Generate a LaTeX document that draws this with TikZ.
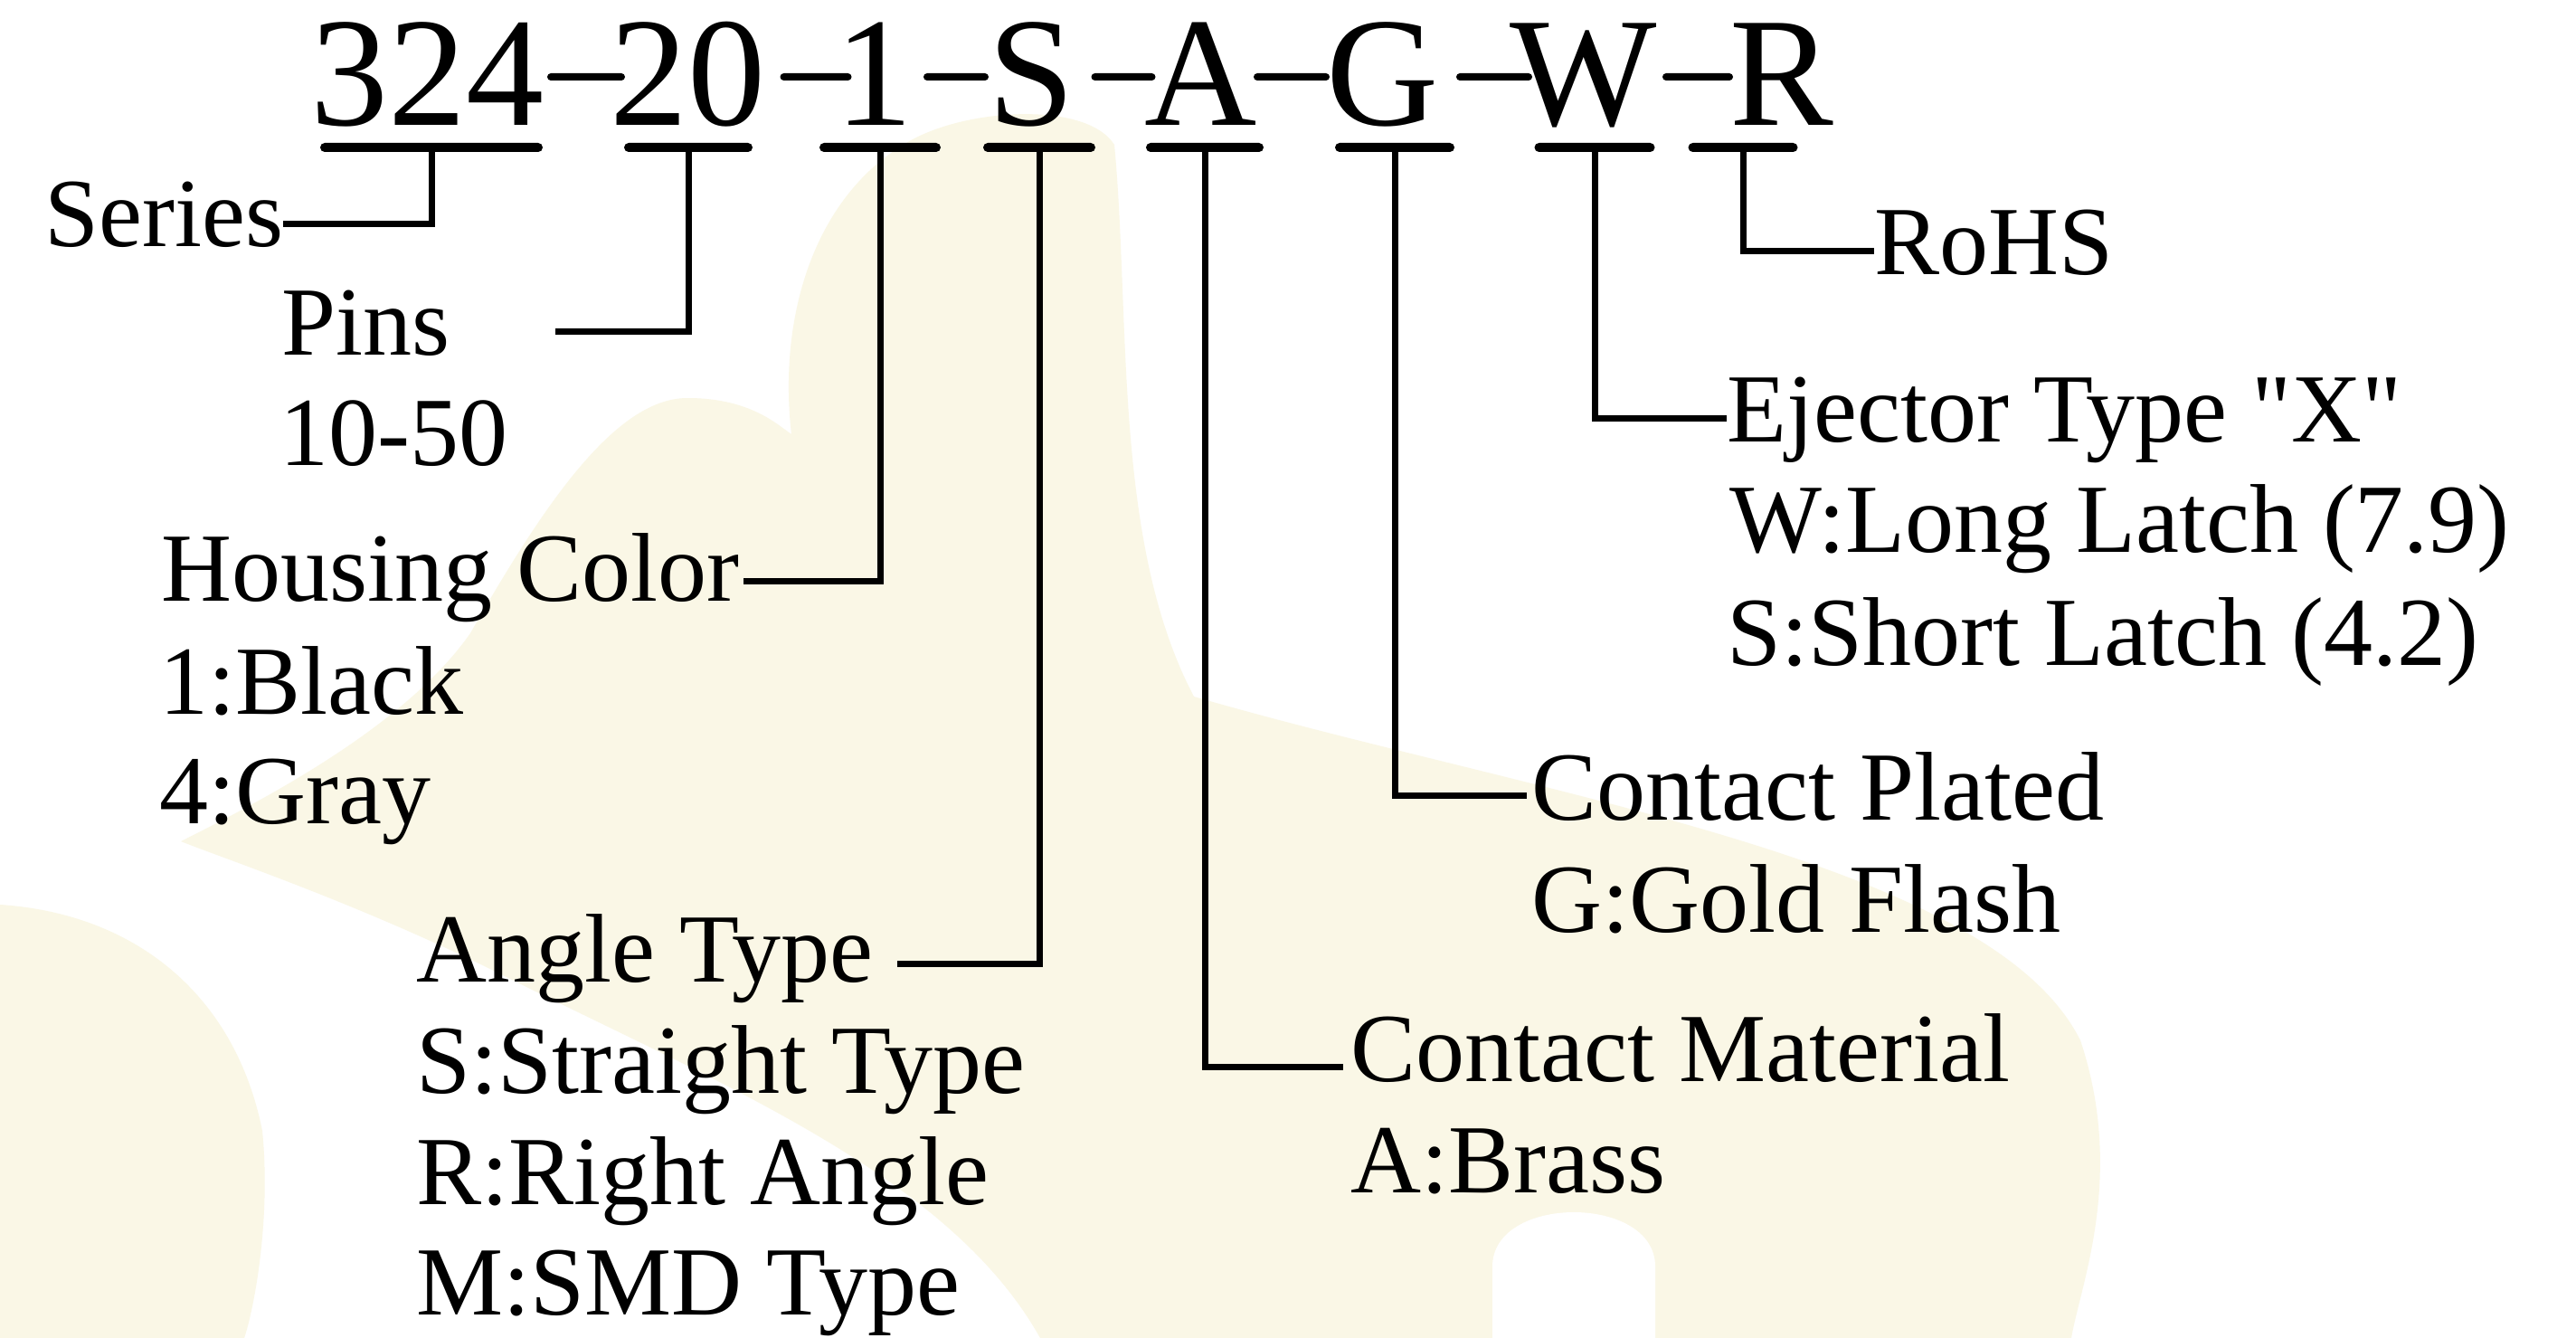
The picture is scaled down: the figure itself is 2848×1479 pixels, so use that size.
\documentclass[tikz,border=0pt]{standalone}
\usepackage{fontspec}
\setmainfont{Liberation Serif}
\newfontfamily\tnr{Liberation Serif}
\definecolor{wm}{RGB}{250,247,230}
\begin{document}
\begin{tikzpicture}[x=1pt,y=-1pt,
  lbl/.style={inner sep=0pt, anchor=base west, font=\tnr\fontsize{108}{122}\selectfont},
  ttl/.style={inner sep=0pt, anchor=base, font=\tnr\fontsize{172}{190}\selectfont},
  uline/.style={fill=black, inner sep=0pt, minimum height=10pt, rounded corners=5pt},
  dashbar/.style={fill=black, inner sep=0pt, minimum height=8pt, rounded corners=4pt},
  conn/.style={line width=7pt, line join=miter}
]
\useasboundingbox (0,0) rectangle (2848,1479);
\fill[white] (0,0) rectangle (2848,1479);
% faint watermark
\fill[wm] (999,160) .. controls (1060,120) and (1200,110) .. (1232,160)
 .. controls (1250,350) and (1230,600) .. (1320,770)
 .. controls (1700,880) and (2200,950) .. (2300,1150)
 .. controls (2350,1300) and (2300,1420) .. (2290,1479)
 -- (1150,1479)
 .. controls (1050,1300) and (800,1200) .. (560,1080)
 .. controls (400,1000) and (250,950) .. (200,930)
 .. controls (300,880) and (450,800) .. (520,700)
 .. controls (600,560) and (680,440) .. (760,440)
 .. controls (830,440) and (860,470) .. (875,480)
 .. controls (860,350) and (900,220) .. (999,160) -- cycle;
\fill[wm] (0,1000) .. controls (150,1010) and (260,1100) .. (290,1250)
 .. controls (300,1350) and (280,1450) .. (270,1479) -- (0,1479) -- cycle;
\fill[white] (1650,1479) -- (1650,1400) .. controls (1650,1320) and (1830,1320) .. (1830,1400) -- (1830,1479) -- cycle;

% title code
\node[ttl] (t324) at (472,139) {324};
\node[ttl] (t20) at (760,139) {20};
\node[ttl] (t1) at (966,139) {1};
\node[ttl] (tS) at (1140,139) {S};
\node[ttl] (tA) at (1328,139) {A};
\node[ttl] (tG) at (1529,139) {G};
\node[ttl] (tW) at (1751,139) {W};
\node[ttl] (tR) at (1970,139) {R};

% dashes
\node[dashbar, minimum width=86pt] (d1) at (648,85) {};
\node[dashbar, minimum width=79pt] (d2) at (902,85) {};
\node[dashbar, minimum width=72pt] (d3) at (1057,85) {};
\node[dashbar, minimum width=71pt] (d4) at (1242,85) {};
\node[dashbar, minimum width=84pt] (d5) at (1428,85) {};
\node[dashbar, minimum width=84pt] (d6) at (1652,85) {};
\node[dashbar, minimum width=78pt] (d7) at (1877,85) {};

% underlines
\node[uline, minimum width=246pt] (u324) at (477,163) {};
\node[uline, minimum width=142pt] (u20) at (761,163) {};
\node[uline, minimum width=134pt] (u1) at (973,163) {};
\node[uline, minimum width=124pt] (uS) at (1149,163) {};
\node[uline, minimum width=130pt] (uA) at (1332,163) {};
\node[uline, minimum width=132pt] (uG) at (1542,163) {};
\node[uline, minimum width=133pt] (uW) at (1763,163) {};
\node[uline, minimum width=121pt] (uR) at (1927,163) {};

% labels
\node[lbl] (series) at (49,273) {Series};
\node[lbl] (pins) at (311,392) {Pins};
\node[lbl] (pinsv) at (309,514) {10-50};
\node[lbl] (housing) at (178,664) {Housing Color};
\node[lbl] (housing1) at (176,789) {1:Black};
\node[lbl] (housing2) at (176,910) {4:Gray};
\node[lbl] (angle) at (460,1085) {Angle Type};
\node[lbl] (angle1) at (460,1208) {S:Straight Type};
\node[lbl] (angle2) at (460,1331) {R:Right Angle};
\node[lbl] (angle3) at (460,1453) {M:SMD Type};
\node[lbl] (material) at (1493,1195) {Contact Material};
\node[lbl] (material1) at (1493,1318) {A:Brass};
\node[lbl] (plated) at (1693,906) {Contact Plated};
\node[lbl] (plated1) at (1693,1030) {G:Gold Flash};
\node[lbl] (ejector) at (1909,488) {Ejector Type "X"};
\node[lbl] (ejector1) at (1912,610) {W:Long Latch (7.9)};
\node[lbl] (ejector2) at (1909,735) {S:Short Latch (4.2)};
\node[lbl] (rohs) at (2072,304) {RoHS};

% connectors
\draw[conn] (u324.center) |- ([yshift=25pt]series.base east);
\draw[conn] (u20.center) |- ([xshift=116pt,yshift=26pt]pins.base east);
\draw[conn] (u1.center) |- ([xshift=5pt,yshift=22pt]housing.base east);
\draw[conn] (uS.center) |- ([xshift=26pt,yshift=20pt]angle.base east);
\draw[conn] (uA.center) |- ([xshift=-8pt,yshift=16pt]material.base west);
\draw[conn] (uG.center) |- ([xshift=-5pt,yshift=27pt]plated.base west);
\draw[conn] (uW.center) |- ([yshift=26pt]ejector.base west);
\draw[conn] (uR.center) |- ([yshift=26pt]rohs.base west);
\end{tikzpicture}
\end{document}
